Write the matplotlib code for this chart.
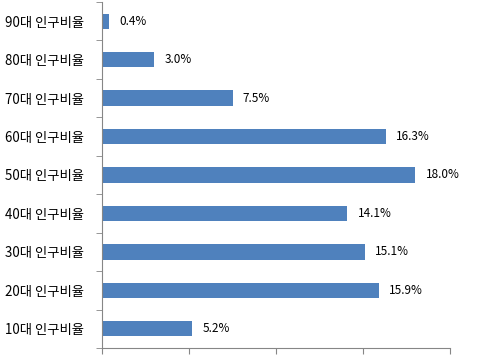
import matplotlib
matplotlib.use('Agg')
import matplotlib.pyplot as plt
import numpy as np

plt.rcParams['font.family'] = ['Noto Sans CJK KR', 'DejaVu Sans']

labels = ['10대 인구비율', '20대 인구비율', '30대 인구비율', '40대 인구비율', '50대 인구비율',
          '60대 인구비율', '70대 인구비율', '80대 인구비율', '90대 인구비율']
values = [5.2, 15.9, 15.1, 14.1, 18.0, 16.3, 7.5, 3.0, 0.4]

fig = plt.figure(figsize=(4.83, 3.56), dpi=100)
ax = fig.add_axes([0.2112, 0.0225, 0.7205, 0.9719])

y = np.arange(len(labels))
ax.barh(y, values, height=0.4, color='#4F81BD')
for yi, v in zip(y, values):
    ax.text(v + 0.6, yi, '%.1f%%' % v, va='center', ha='left', fontsize=8.5, color='black')

ax.set_xlim(0, 20)
ax.set_ylim(-0.5, len(labels) - 0.5)
ax.set_xticks([0, 5, 10, 15, 20])
ax.set_xticklabels([])
ax.set_yticks(y)
ax.set_yticklabels(labels, fontsize=9.6)
ax.set_yticks(np.arange(-0.5, len(labels), 1), minor=True)
ax.tick_params(axis='y', which='major', length=0, pad=13)
ax.tick_params(axis='y', which='minor', length=4, color='#868686')
ax.tick_params(axis='x', length=4, color='#868686')
ax.spines['top'].set_visible(False)
ax.spines['right'].set_visible(False)
ax.spines['left'].set_color('#868686')
ax.spines['bottom'].set_color('#868686')

plt.savefig('out.png', dpi=100)
